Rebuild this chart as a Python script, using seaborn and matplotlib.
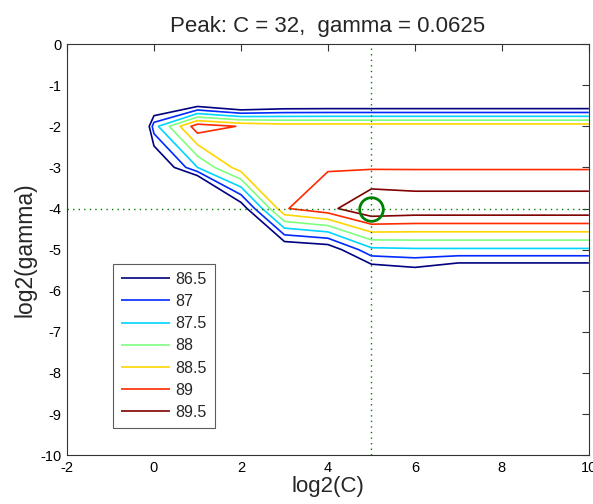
import numpy as np
import pandas as pd
import matplotlib
matplotlib.use("Agg")
import matplotlib.pyplot as plt
import seaborn as sns

# grid search axes (log2 values)
log2c = [-2, -1, 0, 1, 2, 3, 4, 5, 6, 7, 8, 9, 10]
log2g = [0, -1, -2, -3, -4, -5, -6, -7, -8, -9, -10]

# cross-validation accuracy, one row per log2(gamma)
acc_g0 = [78.0, 78.2, 78.5, 79.0, 79.2, 79.3, 79.3, 79.3, 79.3, 79.3, 79.3, 79.3, 79.3]
acc_g1 = [79.0, 80.0, 84.2, 83.5, 82.8, 83.4, 83.45, 83.45, 83.45, 83.45, 83.45, 83.45, 83.45]
acc_g2 = [78.0, 80.0, 87.3, 89.3, 88.96, 88.8, 88.8, 88.8, 88.8, 88.8, 88.8, 88.8, 88.8]
acc_g3 = [77.0, 79.0, 85.63, 87.5, 88.77, 88.8, 88.96, 88.95, 88.95, 88.95, 88.95, 88.95, 88.95]
acc_g4 = [76.0, 78.0, 84.0, 82.5, 86.1, 88.96, 89.35, 90.0, 89.9, 89.9, 89.9, 89.9, 89.9]
acc_g5 = [75.0, 77.0, 82.0, 81.0, 83.0, 85.9, 86.1, 87.38, 87.43, 87.43, 87.43, 87.43, 87.43]
acc_g6 = [74.0, 76.0, 80.0, 79.5, 81.0, 83.0, 84.0, 84.9, 85.28, 84.56, 84.56, 84.56, 84.56]
acc_g7 = [73.0, 75.0, 78.0, 78.0, 79.0, 81.0, 82.0, 82.5, 83.0, 83.0, 83.0, 83.0, 83.0]
acc_g8 = [72.0, 74.0, 76.0, 76.5, 77.0, 79.0, 80.0, 80.5, 81.0, 81.0, 81.0, 81.0, 81.0]
acc_g9 = [71.0, 73.0, 74.0, 75.0, 75.5, 77.0, 78.0, 78.5, 79.0, 79.0, 79.0, 79.0, 79.0]
acc_g10 = [70.0, 72.0, 73.0, 74.0, 74.0, 75.0, 76.0, 76.5, 77.0, 77.0, 77.0, 77.0, 77.0]

levels = [86.5, 87, 87.5, 88, 88.5, 89, 89.5]
level_labels = ["86.5", "87", "87.5", "88", "88.5", "89", "89.5"]

acc = pd.DataFrame([acc_g0, acc_g1, acc_g2, acc_g3, acc_g4, acc_g5,
                    acc_g6, acc_g7, acc_g8, acc_g9, acc_g10],
                   index=log2g, columns=log2c)

# best point
best_g, best_c = acc.stack().idxmax()


def matlab_jet(t):
    # MATLAB's jet colormap (differs a bit from matplotlib's)
    r = np.clip(1.5 - abs(4 * t - 3), 0, 1)
    g = np.clip(1.5 - abs(4 * t - 2), 0, 1)
    b = np.clip(1.5 - abs(4 * t - 1), 0, 1)
    return (r, g, b)


line_colors = [matlab_jet(i / (len(levels) - 1)) for i in range(len(levels))]

sns.set_theme(style="white")
plt.rcParams['font.family'] = ['Liberation Sans', 'DejaVu Sans']
plt.rcParams['axes.unicode_minus'] = False

fig = plt.figure(figsize=(5.93, 5.04), dpi=100)
ax = fig.add_axes([0.113, 0.097, 0.880, 0.8155])

X, Y = np.meshgrid(acc.columns.values, acc.index.values)
cs = ax.contour(X, Y, acc.values, levels=levels, colors=line_colors, linewidths=1.2)

ax.axvline(best_c, color="#008000", linestyle=(0, (1, 3)), linewidth=1)
ax.axhline(best_g, color="#008000", linestyle=(0, (1, 3)), linewidth=1)
ax.plot(best_c, best_g, "o", markersize=17, markerfacecolor="none",
        markeredgecolor="#008000", markeredgewidth=2)

ax.set_xlim(-2, 10)
ax.set_ylim(-10, 0)
ax.set_xticks(range(-2, 11, 2))
ax.set_yticks(range(-10, 1))
ax.tick_params(direction="in", top=True, right=True, length=5, width=0.8,
               labelsize=10.5, colors="#333333", labelcolor="black", pad=4)
for s in ax.spines.values():
    s.set_color("#333333")
    s.set_linewidth(0.8)

ax.set_xlabel("log2(C)", fontsize=16, labelpad=1)
ax.set_ylabel("log2(gamma)", fontsize=16.5, labelpad=3)
ax.set_title("Peak: C = %d,  gamma = %g" % (2 ** best_c, 2.0 ** best_g), fontsize=16, pad=9)

handles, _ = cs.legend_elements()
leg = ax.legend(handles, level_labels, loc="lower left", bbox_to_anchor=(0.088, 0.066),
                borderaxespad=0, frameon=True, fancybox=False, fontsize=11.5,
                handlelength=3.1, labelspacing=0.45, borderpad=0.5, handletextpad=0.3)
leg.get_frame().set_edgecolor("#333333")
leg.get_frame().set_linewidth(0.8)

fig.savefig("out.png", dpi=100)
